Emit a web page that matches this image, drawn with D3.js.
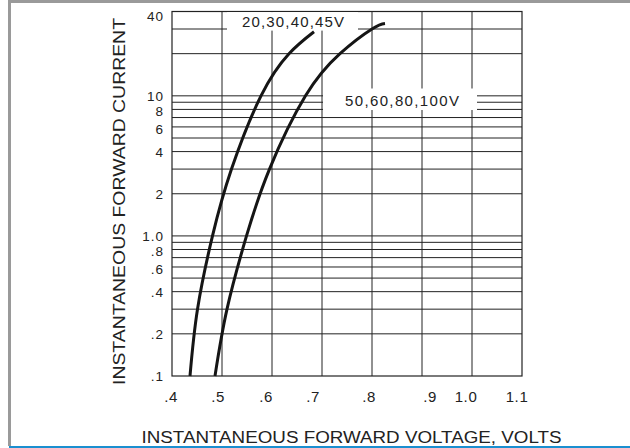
<!DOCTYPE html>
<html>
<head>
<meta charset="utf-8">
<script src="https://cdn.jsdelivr.net/npm/d3@7"></script>
<style>
  body { margin: 0; background: #fff; }
  text { font-family: "Liberation Sans", Arial, sans-serif; fill: #222; }
</style>
</head>
<body>
<svg id="chart"></svg>
<script>
// Forward characteristics
const lowVoltage = [0.436, 0.451, 0.481, 0.519, 0.578, 0.634, 0.684];
const lowCurrent = [0.1, 0.3, 1.0, 3, 10, 20, 28.7];
const highVoltage = [0.486, 0.510, 0.549, 0.595, 0.667, 0.736, 0.800, 0.826];
const highCurrent = [0.1, 0.3, 1.0, 3, 10, 20, 30, 32.8];

const xTicks = [0.4, 0.5, 0.6, 0.7, 0.8, 0.9, 1.0, 1.1];
const xTickLabels = [".4", ".5", ".6", ".7", ".8", ".9", "1.0", "1.1"];
const yTicks = [0.1, 0.2, 0.4, 0.6, 0.8, 1.0, 2, 4, 6, 8, 10, 40];
const yTickLabels = [".1", ".2", ".4", ".6", ".8", "1.0", "2", "4", "6", "8", "10", "40"];
const yGrid = [0.2, 0.3, 0.4, 0.5, 0.6, 0.7, 0.8, 0.9, 1, 2, 3, 4, 5, 6, 7, 8, 9, 10, 20, 30];
const seriesNames = ["20,30,40,45V", "50,60,80,100V"];

class IVChart {
  constructor(_config) {
    this.config = {
      parentElement: _config.parentElement,
      containerWidth: _config.containerWidth || 630,
      containerHeight: _config.containerHeight || 448,
      plot: _config.plot || { left: 172, right: 522, top: 11.5, bottom: 376 },
    };
    this.initVis();
  }

  initVis() {
    let vis = this;
    const p = vis.config.plot;

    vis.svg = d3.select(vis.config.parentElement)
      .attr("width", vis.config.containerWidth)
      .attr("height", vis.config.containerHeight);

    vis.xScale = d3.scaleLinear().domain([0.4, 1.1]).range([p.left, p.right]);
    vis.yScale = d3.scaleLog().domain([0.1, 40]).range([p.bottom, p.top]);

    // page frame: grey top + left, blue bottom rule
    vis.svg.append("rect").attr("x", 8).attr("y", 0).attr("width", 622).attr("height", 3).attr("fill", "#9a9a9a");
    vis.svg.append("rect").attr("x", 8).attr("y", 0).attr("width", 3).attr("height", 446).attr("fill", "#9a9a9a");
    vis.svg.append("rect").attr("x", 9).attr("y", 446).attr("width", 621).attr("height", 2).attr("fill", "#1a8fd0");
  }

  renderVis() {
    let vis = this;
    const p = vis.config.plot;
    const g = vis.svg.append("g");

    // grid
    g.selectAll(".hgrid").data(yGrid).join("line")
      .attr("x1", p.left).attr("x2", p.right)
      .attr("y1", d => vis.yScale(d)).attr("y2", d => vis.yScale(d))
      .attr("stroke", "#222").attr("stroke-width", 1);
    g.selectAll(".vgrid").data(xTicks.slice(1, -1)).join("line")
      .attr("x1", d => vis.xScale(d)).attr("x2", d => vis.xScale(d))
      .attr("y1", p.top).attr("y2", p.bottom)
      .attr("stroke", "#222").attr("stroke-width", 1);
    g.append("rect")
      .attr("x", p.left).attr("y", p.top)
      .attr("width", p.right - p.left).attr("height", p.bottom - p.top)
      .attr("fill", "none").attr("stroke", "#222").attr("stroke-width", 1.2);

    // curve labels sit on white boxes that break the grid
    const labels = [
      { text: seriesNames[0], box: [227, p.top + 0.6, 131, 18.5], x: 242, y: 26.5, len: 102 },
      { text: seriesNames[1], box: [323, 88.5, 154, 21.5], x: 345, y: 106, len: 114 },
    ];
    labels.forEach(l => {
      g.append("rect").attr("x", l.box[0]).attr("y", l.box[1])
        .attr("width", l.box[2]).attr("height", l.box[3]).attr("fill", "#fff");
      g.append("text").attr("x", l.x).attr("y", l.y)
        .attr("font-size", 15).attr("textLength", l.len).attr("lengthAdjust", "spacing")
        .text(l.text);
    });

    // curves (natural spline keeps them smooth through the read points)
    const line = d3.line()
      .x(d => vis.xScale(d[0]))
      .y(d => vis.yScale(d[1]))
      .curve(d3.curveNatural);
    [[lowVoltage, lowCurrent], [highVoltage, highCurrent]].forEach(([vs, is]) => {
      g.append("path")
        .datum(d3.zip(vs, is))
        .attr("d", line)
        .attr("fill", "none").attr("stroke", "#151515").attr("stroke-width", 3);
    });

    // y tick labels; the lower label of each crowded pair sits a little low, as printed
    const crowded = [0.8, 8, 0.6, 6];
    g.selectAll(".ylab").data(yTicks).join("text")
      .attr("x", 164)
      .attr("y", d => vis.yScale(d) + (d === 40 ? 9 : crowded.includes(d) ? 7 : 5))
      .attr("text-anchor", "end").attr("font-size", 13.5).attr("letter-spacing", 1)
      .text((d, i) => yTickLabels[i]);

    // x tick labels (slight nudges, as in the print)
    const nudge = [-1, -4, -6, -9, -3, 8, -6, -5];
    g.selectAll(".xlab").data(xTicks).join("text")
      .attr("x", (d, i) => vis.xScale(d) + nudge[i])
      .attr("y", 402)
      .attr("text-anchor", "middle").attr("font-size", 15).attr("letter-spacing", 0.6)
      .text((d, i) => xTickLabels[i]);

    // axis titles
    g.append("text")
      .attr("x", 141.5).attr("y", 443)
      .attr("font-size", 16).attr("textLength", 420).attr("lengthAdjust", "spacingAndGlyphs")
      .text("INSTANTANEOUS FORWARD VOLTAGE, VOLTS");
    g.append("text")
      .attr("transform", "translate(125,385) rotate(-90)")
      .attr("font-size", 16).attr("textLength", 367).attr("lengthAdjust", "spacingAndGlyphs")
      .text("INSTANTANEOUS FORWARD CURRENT");
  }
}

const chart = new IVChart({ parentElement: "#chart" });
chart.renderVis();
</script>
</body>
</html>
